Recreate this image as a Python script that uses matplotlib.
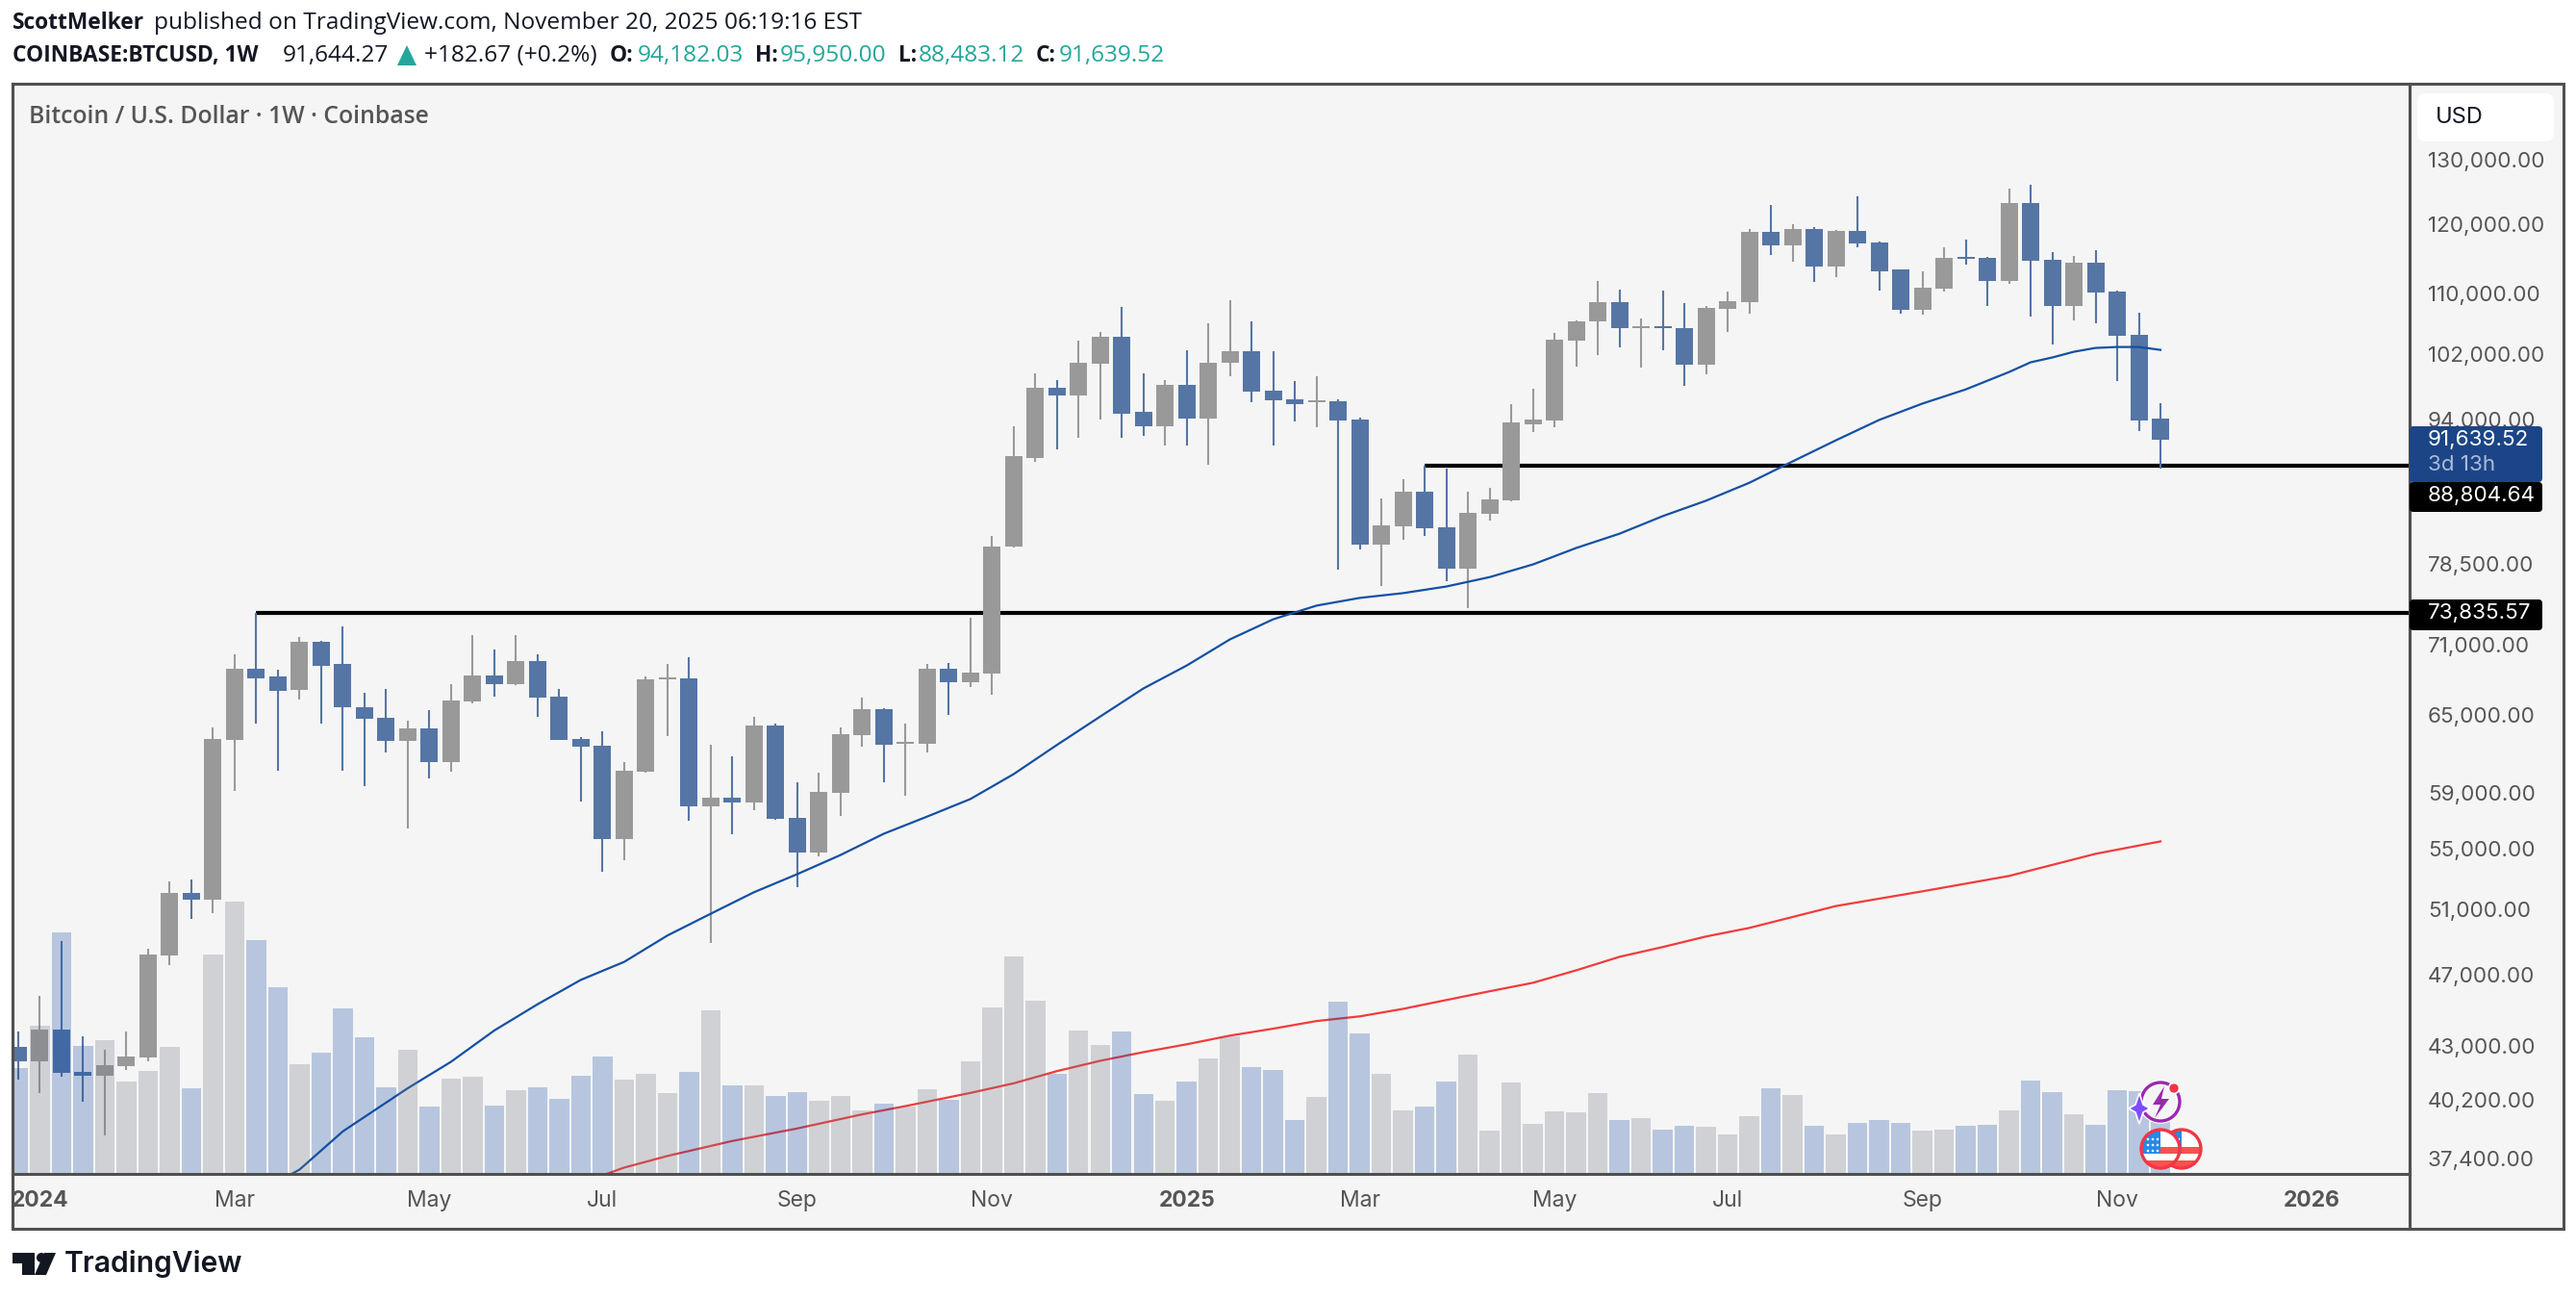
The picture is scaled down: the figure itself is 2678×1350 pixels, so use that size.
import numpy as np
import matplotlib
matplotlib.use('Agg')
import matplotlib.pyplot as plt
from matplotlib.patches import Rectangle, Circle, Polygon, FancyBboxPatch

# weekly candles
opens = [42970, 42180, 43910, 41650, 41450, 41940, 42430, 48190, 52060, 51620,
         63010, 68930, 68260, 67060, 71210, 69270, 65630, 64830, 62940, 63910,
         61280, 66100, 68340, 67540, 69520, 66500, 63090, 62570, 55670, 60610,
         68020, 68100, 57990, 58630, 58280, 64140, 57210, 54750, 58980, 63390,
         65470, 62720, 62720, 68930, 67780, 68500, 80200, 89670, 97860, 96950,
         100870, 104280, 94990, 93280, 98200, 94190, 100990, 102450, 97520, 96380,
         96030, 96150, 94080, 80480, 82320, 85980, 82220, 78100, 83610, 84970,
         93510, 93960, 103790, 106220, 108920, 105440, 105700, 105440, 100750, 108020,
         108920, 118880, 116900, 119340, 113880, 119000, 117300, 113340, 107880, 110730,
         115250, 115110, 111830, 123250, 114840, 108400, 114430, 110340, 104540, 94182.03]
highs = [43800, 45820, 49030, 43540, 42800, 43800, 48560, 52810, 52940, 63990,
         70110, 73840, 68840, 71640, 71300, 72660, 66820, 67140, 64590, 65390,
         67620, 71890, 70530, 71890, 70110, 67140, 63240, 63690, 61350, 68260,
         69270, 69860, 62640, 61730, 64910, 64360, 59760, 60540, 64060, 66420,
         65550, 64360, 69270, 69350, 73460, 81350, 93280, 99660, 98810, 103790,
         104930, 108280, 99660, 98810, 102570, 106090, 109180, 106340, 102450, 98690,
         99300, 96380, 94300, 85170, 87300, 88710, 88390, 85980, 86380, 95810,
         97740, 104800, 106470, 111830, 110600, 106730, 110470, 108790, 108400, 110340,
         119340, 122970, 120000, 119630, 119200, 124270, 117440, 113470, 113200, 116620,
         117730, 115250, 125470, 126080, 115930, 115380, 116210, 110470, 107380, 95950.00]
lows = [41250, 40570, 41400, 40150, 38480, 41740, 42180, 47610, 50440, 50800,
        59120, 64360, 60680, 66260, 64360, 60680, 59470, 62090, 56410, 60040,
        60610, 65950, 66500, 67460, 64910, 63000, 58340, 53440, 54220, 60540,
        63310, 57010, 48920, 56000, 57710, 57080, 52430, 54480, 57350, 62490,
        59760, 58770, 62090, 65070, 67300, 66660, 80100, 89240, 90540, 91940,
        94080, 91940, 92160, 91070, 91070, 88920, 99300, 96030, 91070, 93850,
        93170, 77990, 79910, 76430, 80960, 81350, 76880, 74270, 82930, 84900,
        92590, 93170, 100510, 101960, 102940, 100270, 102570, 98090, 99540, 104930,
        107250, 115530, 114560, 111690, 112370, 116620, 110470, 107250, 107120, 110340,
        114150, 108400, 111420, 106860, 103300, 106470, 106090, 98690, 92710, 88483.12]
closes = [42180, 43910, 41600, 41450, 41990, 42480, 48250, 52060, 51620, 63090,
          68930, 68100, 66980, 71210, 69180, 65630, 64750, 62940, 63910, 61280,
          66180, 68340, 67540, 69520, 66420, 63010, 62490, 55670, 60680, 68020,
          68180, 57990, 58630, 58280, 64140, 57140, 54750, 59050, 63460, 65470,
          62640, 62870, 68930, 67780, 68590, 80290, 89780, 97860, 96950, 100990,
          104280, 94760, 93280, 98200, 94190, 100990, 102450, 97400, 96260, 95810,
          96260, 93960, 80480, 82420, 85980, 82120, 78100, 83710, 85070, 93640,
          94080, 103910, 106340, 108920, 105440, 105700, 105440, 100750, 108150, 109050,
          118880, 116900, 119340, 113880, 119000, 117170, 113200, 107880, 110870, 115110,
          114980, 111830, 123250, 114700, 108400, 114430, 110210, 104410, 93960, 91639.52]
# volume, relative units of the hidden scale
volumes = [109, 153, 250, 132, 138, 95, 106, 131, 88, 227,
           282, 242, 193, 113, 125, 171, 141, 89, 128, 69,
           98, 100, 70, 86, 89, 77, 101, 121, 97, 103,
           83, 105, 169, 91, 91, 80, 84, 75, 80, 65,
           72, 69, 87, 76, 116, 172, 225, 179, 103, 148,
           133, 147, 82, 75, 95, 119, 142, 110, 107, 55,
           79, 178, 145, 103, 65, 69, 95, 123, 44, 94,
           51, 64, 63, 83, 55, 57, 45, 49, 48, 40,
           59, 88, 81, 49, 40, 52, 55, 52, 44, 45,
           49, 50, 65, 96, 84, 61, 50, 86, 85, 53]

# moving averages, sampled at these weeks
ma_fast_weeks = [12, 13, 15, 18, 20, 22, 24, 26, 28, 30, 32, 34, 36, 38, 40, 42, 44, 46, 48, 50,
                 52, 54, 56, 58, 60, 62, 64, 66, 68, 70, 72, 74, 76, 78, 80, 82, 84, 86, 88, 90,
                 92, 93, 94, 95, 96, 97, 98, 99]
ma_fast = [36320, 36870, 38670, 40810, 42180, 43860, 45320, 46720, 47780, 49380,
           50740, 52120, 53310, 54600, 56070, 57280, 58550, 60400, 62640, 64900,
           67220, 69170, 71465, 73280, 74540, 75260, 75710, 76340, 77240, 78470,
           80100, 81540, 83350, 84970, 86890, 89240, 91620, 93980, 95920, 97630,
           99770, 100990, 101600, 102330, 102820, 102940, 102940, 102570]
ma_slow_weeks = [27, 28, 30, 33, 36, 39, 41, 44, 46, 48, 50, 52, 54, 56, 58, 60, 62, 64, 66, 68,
                 70, 72, 74, 76, 78, 80, 84, 88, 92, 96, 99]
ma_slow = [36600, 36960, 37500, 38210, 38810, 39500, 39910, 40570, 41060, 41690,
           42230, 42690, 43110, 43580, 43960, 44380, 44640, 45060, 45560, 46060,
           46550, 47280, 48085, 48675, 49320, 49850, 51230, 52180, 53190, 54680, 55535]

# levels: start week, price
level_weeks = [11, 65]
level_prices = [73835.57, 88804.64]

price_ticks = [130000, 120000, 110000, 102000, 94000, 78500, 71000, 65000, 59000, 55000,
               51000, 47000, 43000, 40200, 37400]
time_weeks = [1, 10, 19, 27, 36, 45, 54, 62, 71, 79, 88, 97, 106]
time_labels = ['2024', 'Mar', 'May', 'Jul', 'Sep', 'Nov', '2025', 'Mar', 'May', 'Jul', 'Sep', 'Nov', '2026']

BLUE = '#5575A5'
GREY = '#999999'
BG = '#F5F5F5'
FRAME = '#505050'
TEAL = '#26A69A'
DARK = '#131722'
TXT = '#555555'
AXIS_SIZE = 16.1

W, H = 2678, 1350
fig = plt.figure(figsize=(W / 100, H / 100), dpi=100, facecolor='white')

# pixel positions of the panes
L, R, T, B = 13, 2505, 87, 1220
OUT_R, OUT_B = 2665, 1277

back = fig.add_axes([0, 0, 1, 1], zorder=-1)
back.set_xlim(0, W)
back.set_ylim(H, 0)
back.axis('off')
back.add_patch(Rectangle((L, T), OUT_R - L, OUT_B - T, facecolor=BG, edgecolor='none'))

rect = [L / W, 1 - B / H, (R - L) / W, (B - T) / H]
ax = fig.add_axes(rect, facecolor='none')
ax.set_yscale('log')

weeks = np.arange(len(closes))
spacing = 22.495
x_first = 19
xmin, xmax = (L - x_first) / spacing, (R - x_first) / spacing
ymin, ymax = 36670, 142990

opens_a, closes_a = np.array(opens), np.array(closes)
up = closes_a >= opens_a
candle_colors = [GREY if u else BLUE for u in up]
body_low = np.minimum(opens_a, closes_a)
body_high = np.maximum(opens_a, closes_a)

for w, p in zip(level_weeks, level_prices):
    ax.plot([w, xmax], [p, p], color='black', lw=3.0, solid_capstyle='butt', zorder=1)

ax.vlines(weeks, lows, highs, colors=candle_colors, lw=1.5, zorder=2)
ax.bar(weeks, body_high - body_low, bottom=body_low, width=0.8, color=candle_colors,
       linewidth=0, zorder=2)

ax.plot(ma_fast_weeks, ma_fast, color='#1450A3', lw=1.6, zorder=3)
ax.plot(ma_slow_weeks, ma_slow, color='#F23B3B', lw=1.6, zorder=3)

ax.set_xlim(xmin, xmax)
ax.set_ylim(ymin, ymax)

# volume sits over everything with a low alpha
ax_vol = ax.twinx()
ax_vol.set_yscale('linear')
ax_vol.patch.set_visible(False)
vol_colors = ['#6F7382' if u else '#134AA3' for u in up]
ax_vol.bar(weeks, volumes, width=0.91, color=vol_colors, alpha=0.27, linewidth=0)
ax_vol.set_ylim(-1, B - T - 1)
ax_vol.set_yticks([])
for s in ax_vol.spines.values():
    s.set_visible(False)

# twinx moves the ticks back to the left, so set them up afterwards
ax.set_xticks(time_weeks)
ax.set_xticklabels(time_labels)
ax.set_yticks(price_ticks)
ax.set_yticks([], minor=True)
ax.set_yticklabels([f'{v:,.2f}' for v in price_ticks])
ax.yaxis.tick_right()
ax.tick_params(axis='y', which='both', length=0, pad=13.5, labelsize=AXIS_SIZE, labelcolor=TXT,
               labelfontfamily='Inter')
ax.tick_params(axis='x', length=0, pad=12, labelsize=16.5, labelcolor=TXT, labelfontfamily='Inter')
for lab, txt in zip(ax.get_xticklabels(), time_labels):
    if txt.isdigit():
        lab.set_fontweight('bold')
for s in ax.spines.values():
    s.set_visible(True)
    s.set_color(FRAME)
    s.set_linewidth(2.2)
    s.set_zorder(10)

# overlay in pixel units for labels and badges
top = fig.add_axes([0, 0, 1, 1], zorder=5)
top.set_xlim(0, W)
top.set_ylim(H, 0)
top.axis('off')
top.patch.set_visible(False)

top.plot([R, R], [T, OUT_B], color=FRAME, lw=2.2, solid_capstyle='butt')
top.plot([L, OUT_R, OUT_R, L, L], [T, T, OUT_B, OUT_B, T], color=FRAME, lw=2.2, solid_joinstyle='miter')


def head(x, y, s, color=DARK, bold=False):
    top.text(x, y, s, color=color, family='Open Sans', fontsize=16.4 if bold else 17.6,
             fontweight='bold' if bold else 'normal', ha='left', va='center')


head(13, 24, 'ScottMelker', bold=True)
head(160, 24, 'published on TradingView.com, November 20, 2025 06:19:16 EST')
head(13, 58, 'COINBASE:BTCUSD, 1W', bold=True)
head(294, 58, '91,644.27')
top.add_patch(Polygon([[413, 68], [433, 68], [423, 47]], facecolor=TEAL, edgecolor='none'))
head(441, 58, '+182.67 (+0.2%)')
head(634, 58, 'O:', bold=True)
head(663, 58, '94,182.03', TEAL)
head(785, 58, 'H:', bold=True)
head(811, 58, '95,950.00', TEAL)
head(934, 58, 'L:', bold=True)
head(955, 58, '88,483.12', TEAL)
head(1077, 58, 'C:', bold=True)
head(1101, 58, '91,639.52', TEAL)

top.text(30, 121, 'Bitcoin / U.S. Dollar · 1W · Coinbase', color=TXT, family='Open Sans',
         fontsize=17.8, fontweight='semibold', ha='left', va='center')

# USD box
top.add_patch(FancyBboxPatch((2513, 97), 142, 50, boxstyle='round,pad=0,rounding_size=9',
                             facecolor='white', edgecolor='none'))
top.text(2532, 122, 'USD', color=DARK, family='Inter', fontsize=17, ha='left', va='center')


def price_box(y0, y1, color):
    top.add_patch(FancyBboxPatch((R, y0), 2643 - R, y1 - y0, boxstyle='round,pad=0,rounding_size=4',
                                 facecolor=color, edgecolor='none', zorder=3))


def box_text(y, s, color='white'):
    top.text(2524, y, s, color=color, family='Inter', fontsize=AXIS_SIZE, ha='left', va='center', zorder=4)


price_box(501, 532, 'black')
price_box(443, 501, '#1C4587')
price_box(623, 655, 'black')
box_text(457, f'{closes[-1]:,.2f}')
box_text(483, '3d 13h', '#A9BBD8')
box_text(515, f'{level_prices[1]:,.2f}')
box_text(637, f'{level_prices[0]:,.2f}')

# event badges at the last bar
ring = Circle((2246, 1145), 20, facecolor=BG, edgecolor='white', lw=4, zorder=6)
top.add_patch(ring)
top.add_patch(Circle((2246, 1145), 20, facecolor='none', edgecolor='#9C27B0', lw=2.4, zorder=7))
top.add_patch(Polygon([[2250, 1129], [2238, 1148], [2246, 1148], [2240, 1162], [2255, 1142], [2247, 1142]],
                      facecolor='#9C27B0', edgecolor='none', zorder=7))
top.add_patch(Polygon([[2224, 1136], [2228, 1148], [2235, 1152], [2228, 1156], [2224, 1168], [2220, 1156],
                       [2213, 1152], [2220, 1148]], facecolor='#7C4DFF', edgecolor='white', lw=1.2, zorder=8))
top.add_patch(Circle((2260, 1131), 5.5, facecolor='#F23645', edgecolor='white', lw=1.2, zorder=8))


def flag(cx, cy, r, z):
    top.add_patch(Circle((cx, cy), r, facecolor='white', edgecolor='none', zorder=z))
    clip = Circle((cx, cy), r - 1, transform=top.transData)
    for y0 in (cy - 2, cy + 12):
        s = Rectangle((cx - r, y0), 2 * r, 7, facecolor='#F4534F', edgecolor='none', zorder=z)
        top.add_patch(s)
        s.set_clip_path(clip)
    s = Rectangle((cx - r, cy - r), r, r + 5, facecolor='#2489E8', edgecolor='none', zorder=z)
    top.add_patch(s)
    s.set_clip_path(clip)
    for dx in (-13, -8, -3):
        for dy in (-10, -4, 2):
            top.add_patch(Circle((cx + dx, cy + dy), 1.3, facecolor='white', edgecolor='none', zorder=z))
    top.add_patch(Circle((cx, cy), r, facecolor='none', edgecolor='#F23645', lw=2.4, zorder=z))


flag(2268, 1194, 20, 9)
flag(2246, 1194, 20, 10)

# logo
top.add_patch(Polygon([[13, 1302], [36, 1302], [36, 1325], [23, 1325], [23, 1313], [13, 1313]],
                      facecolor=DARK, edgecolor='none'))
top.add_patch(Circle((43, 1307), 5, facecolor=DARK, edgecolor='none'))
top.add_patch(Polygon([[46, 1302], [58, 1302], [48, 1325], [36, 1325]], facecolor=DARK, edgecolor='none'))
top.text(67, 1313, 'TradingView', color=DARK, family='Inter', fontsize=21.6, fontweight='semibold',
         ha='left', va='center')

fig.savefig('out.png', dpi=100)
